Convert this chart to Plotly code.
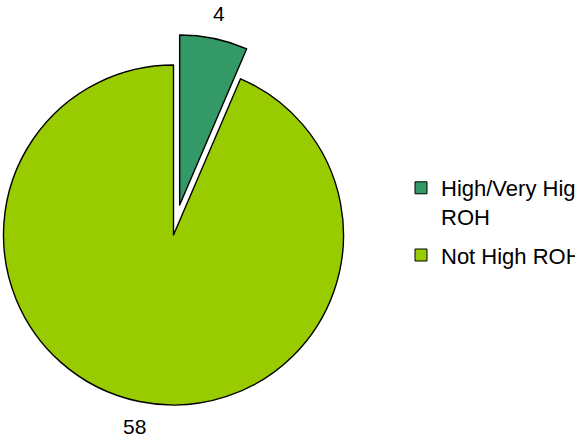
import math
import plotly.graph_objects as go

# --- data -----------------------------------------------------------------
labels = ["High/Very High<br>ROH", "Not High ROH"]
values = [4, 58]
colors = ["#339966", "#99CC00"]

# --- layout geometry (pixels) ---------------------------------------------
W, H = 575, 443
CX, CY, R = 173.5, 235.0, 170.0   # centre and radius of the pie
PULL = 0.18                        # exploded slice offset, as a fraction of R
LABEL_GAP = 26                     # distance of value labels beyond the rim
FONT = "Liberation Sans, Arial, sans-serif"
FONT_SIZE = 22
CLEAR = "rgba(0,0,0,0)"


def domain_for(cx, cy, r):
    """Square pie domain (paper fractions) centred on (cx, cy) in pixels."""
    return dict(
        x=[(cx - r) / W, (cx + r) / W],
        y=[1 - (cy + r) / H, 1 - (cy - r) / H],
    )


# Slice bisectors, measured clockwise from 12 o'clock.
total = sum(values)
bisectors = []
start = 0.0
for v in values:
    sweep = 360.0 * v / total
    bisectors.append(math.radians(start + sweep / 2.0))
    start += sweep

# The first slice is exploded along its bisector.
pulls = [PULL, 0.0]
centres = [(CX + p * R * math.sin(a), CY - p * R * math.cos(a))
           for p, a in zip(pulls, bisectors)]

fig = go.Figure()

# One pie per slice: each trace paints its own slice and leaves the other clear.
for i in range(len(values)):
    fill = [colors[j] if j == i else CLEAR for j in range(len(values))]
    edge = ["black" if j == i else CLEAR for j in range(len(values))]
    cx, cy = centres[i]
    fig.add_trace(go.Pie(
        labels=labels,
        values=values,
        sort=False,
        direction="clockwise",
        rotation=0,
        domain=domain_for(cx, cy, R),
        marker=dict(colors=fill, line=dict(color=edge, width=1.4)),
        textinfo="none",
        hoverinfo="skip",
        showlegend=False,
    ))

# Value labels outside the rim, along each slice's bisector.
for v, a, (cx, cy) in zip(values, bisectors, centres):
    d = R + LABEL_GAP
    fig.add_annotation(
        x=(cx + d * math.sin(a)) / W,
        y=1 - (cy - d * math.cos(a)) / H,
        xref="paper", yref="paper",
        text=str(v),
        showarrow=False,
        xanchor="center", yanchor="middle",
        font=dict(family=FONT, size=FONT_SIZE - 1, color="black"),
    )

# Legend entries with square swatches.
for k, (lab, col) in enumerate(zip(labels, colors)):
    fig.add_trace(go.Scatter(
        x=[None], y=[None],
        mode="markers",
        name=lab,
        legendgroup=f"g{k}",
        marker=dict(symbol="square", size=12, color=col,
                    line=dict(color="black", width=1)),
        hoverinfo="skip",
    ))

fig.update_layout(
    width=W,
    height=H,
    margin=dict(l=0, r=0, t=0, b=0, autoexpand=False),
    paper_bgcolor="white",
    plot_bgcolor="white",
    showlegend=True,
    xaxis=dict(visible=False),
    yaxis=dict(visible=False),
    legend=dict(
        x=401 / W, y=1 - 167 / H,
        xanchor="left", yanchor="top",
        valign="top",
        tracegroupgap=7,
        bgcolor=CLEAR,
        borderwidth=0,
        font=dict(family=FONT, size=FONT_SIZE, color="black"),
    ),
)

fig.write_html("out.html")
